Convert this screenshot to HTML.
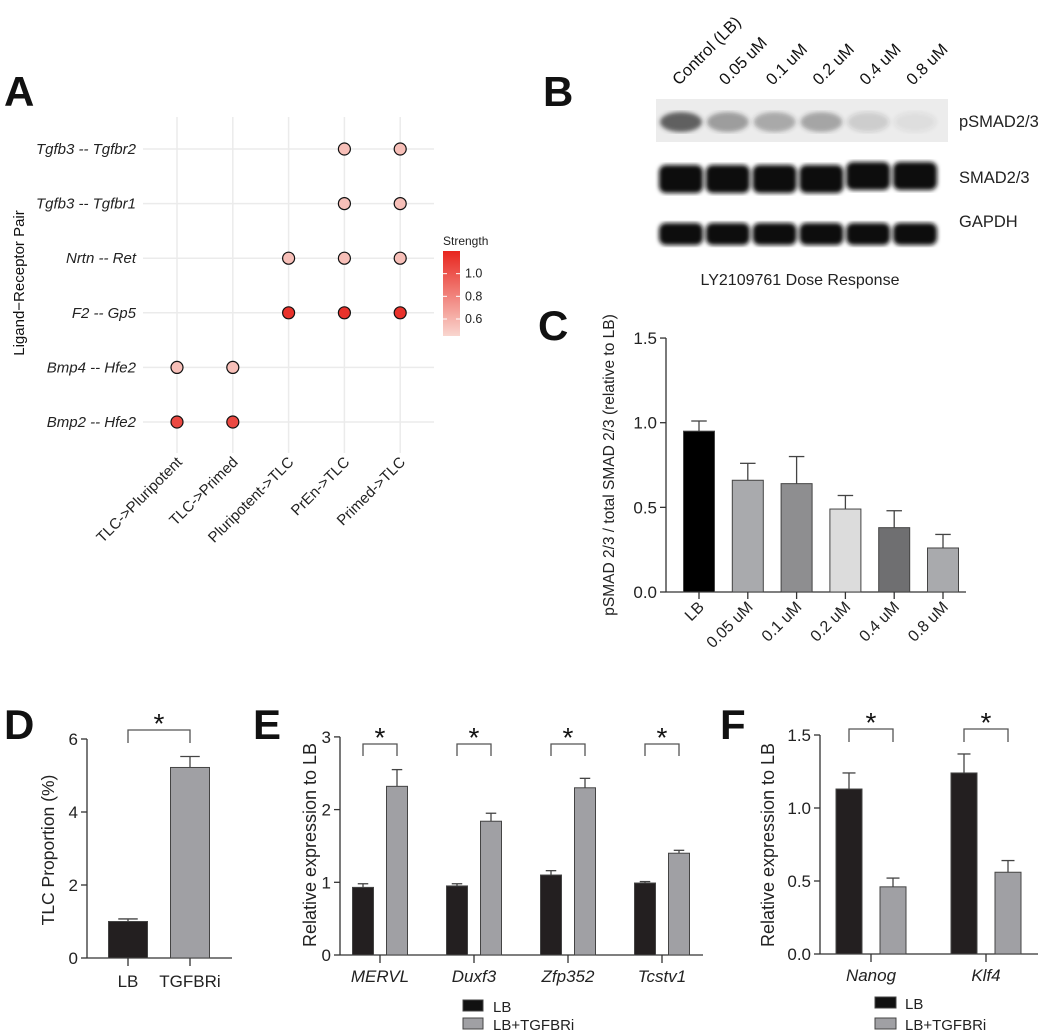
<!DOCTYPE html>
<html><head><meta charset="utf-8"><style>
html,body{margin:0;padding:0;background:#fff;}
svg{display:block;font-family:"Liberation Sans",Arial,sans-serif;}
</style></head><body>
<svg id="fig" width="1059" height="1032" viewBox="0 0 1059 1032" xmlns="http://www.w3.org/2000/svg">
<defs>
<linearGradient id="sg" x1="0" y1="1" x2="0" y2="0">
<stop offset="0" stop-color="#f9d6cf"/><stop offset="1" stop-color="#e8261f"/>
</linearGradient>
<filter id="blur"><feGaussianBlur stdDeviation="2"/></filter>
</defs>
<g id="pA"></g>
<g id="pB"></g>
<g id="pC"></g>
<g id="pD"></g>
<g id="pE"></g>
<g id="pF"></g>
</svg>
<script>
// ---- Panel A data ----
const aPairs = ["Tgfb3 -- Tgfbr2","Tgfb3 -- Tgfbr1","Nrtn -- Ret","F2 -- Gp5","Bmp4 -- Hfe2","Bmp2 -- Hfe2"];
const aGroups = ["TLC->Pluripotent","TLC->Primed","Pluripotent->TLC","PrEn->TLC","Primed->TLC"];
const aDotPair = [0,0,1,1,2,2,2,3,3,3,4,4,5,5];
const aDotGroup = [3,4,3,4,2,3,4,2,3,4,0,1,0,1];
const aDotStrength = [0.55,0.55,0.55,0.55,0.55,0.55,0.55,1.15,1.15,1.15,0.55,0.55,1.05,1.05];
const aLegendTicks = [1.0,0.8,0.6];
// ---- Panel B data ----
const bLanes = ["Control (LB)","0.05 uM","0.1 uM","0.2 uM","0.4 uM","0.8 uM"];
const bPInt = [0.75,0.42,0.36,0.38,0.16,0.08];
// ---- Panel C data ----
const cCats = ["LB","0.05 uM","0.1 uM","0.2 uM","0.4 uM","0.8 uM"];
const cVals = [0.95,0.66,0.64,0.49,0.38,0.26];
const cErr = [0.06,0.10,0.16,0.08,0.10,0.08];
const cTicks = ["0.0","0.5","1.0","1.5"];
// ---- Panel D data ----
const dCats = ["LB","TGFBRi"];
const dVals = [1.0,5.22];
const dErr = [0.07,0.30];
const dTicks = [0,2,4,6];
// ---- Panel E data ----
const eCats = ["MERVL","Duxf3","Zfp352","Tcstv1"];
const eLB = [0.93,0.95,1.10,0.99];
const eLBErr = [0.05,0.03,0.06,0.02];
const eT = [2.32,1.84,2.30,1.40];
const eTErr = [0.23,0.11,0.13,0.04];
const eTicks = [0,1,2,3];
// ---- Panel F data ----
const fCats = ["Nanog","Klf4"];
const fLB = [1.13,1.24];
const fLBErr = [0.11,0.13];
const fT = [0.46,0.56];
const fTErr = [0.06,0.08];
const fTicks = ["0.0","0.5","1.0","1.5"];

const NS="http://www.w3.org/2000/svg";
function mk(parent,tag,attrs,text){const e=document.createElementNS(NS,tag);for(const k in attrs)e.setAttribute(k,attrs[k]);if(text!==undefined)e.textContent=text;parent.appendChild(e);return e;}
function letter(g,ch,x,y){const t=mk(g,'text',{x:x,y:y,'font-size':42,'font-weight':'bold',fill:'#111'},ch);

}

// ===== Panel A =====
(function(){
const g=document.getElementById('pA');
letter(g,'A',4,106);
const colX=i=>177+i*55.8, rowY=i=>149+i*54.6;
aPairs.forEach((p,i)=>{
 const l=mk(g,'line',{x1:143,x2:434,y1:rowY(i),y2:rowY(i),stroke:'#ebebeb','stroke-width':1.5});
 
 
 const t=mk(g,'text',{x:136,y:rowY(i)+5,'text-anchor':'end','font-size':15,'font-style':'italic',fill:'#222'},p);
 
 
});
aGroups.forEach((p,i)=>{
 const l=mk(g,'line',{x1:colX(i),x2:colX(i),y1:117,y2:453,stroke:'#ebebeb','stroke-width':1.5});
 
 
 const t=mk(g,'text',{x:0,y:0,'text-anchor':'end','font-size':15,fill:'#222',transform:`translate(${colX(i)+6},${463}) rotate(-45)`},p);
 
 
});
function col(s){const f=Math.max(0,Math.min(1,(s-0.45)/(1.2-0.45)));
 const a=[249,214,207],b=[232,38,31];return `rgb(${a.map((v,k)=>Math.round(v+(b[k]-v)*f)).join(',')})`;}
aDotPair.forEach((p,i)=>{
 const c=mk(g,'circle',{cx:colX(aDotGroup[i]),cy:rowY(p),r:6,fill:col(aDotStrength[i]),stroke:'#111','stroke-width':1.2});
 
 
});
const yt=mk(g,'text',{x:0,y:0,'text-anchor':'middle','font-size':15,fill:'#111',transform:'translate(24,283) rotate(-90)'},'Ligand\u2212Receptor Pair');


const lt=mk(g,'text',{x:443,y:245,'font-size':12,fill:'#222'},'Strength');


const bar=mk(g,'rect',{x:443,y:251,width:17,height:85,fill:'url(#sg)'});


const ly=v=>336-(v-0.45)/(1.2-0.45)*85;
aLegendTicks.forEach(v=>{
 mk(g,'line',{x1:443,x2:447,y1:ly(v),y2:ly(v),stroke:'#fff'});
 mk(g,'line',{x1:456,x2:460,y1:ly(v),y2:ly(v),stroke:'#fff'});
 const t=mk(g,'text',{x:465,y:ly(v)+4,'font-size':12.5,fill:'#222'},v.toFixed(1));
 
 
});
})();

// ===== Panel B =====
(function(){
const g=document.getElementById('pB');
letter(g,'B',543,106);
const laneX=i=>681+i*46.8;
mk(g,'rect',{x:656,y:99,width:292,height:43,fill:'#ececec'});
bLanes.forEach((n,i)=>{
 const t=mk(g,'text',{x:0,y:0,'font-size':16.5,fill:'#111',transform:`translate(${laneX(i)-2},${86}) rotate(-45)`},n);
 
 
 const p=mk(g,'ellipse',{cx:laneX(i),cy:122,rx:21,ry:10,fill:'#333','fill-opacity':bPInt[i],filter:'url(#blur)'});
 
 
 const s=mk(g,'rect',{x:laneX(i)-22,y:i>=4?162:165,width:44,height:28,rx:7,fill:'#111',filter:'url(#blur)'});
 
 
 const gp=mk(g,'rect',{x:laneX(i)-22,y:223,width:44,height:22,rx:7,fill:'#111',filter:'url(#blur)'});
 
 
});
[['pSMAD2/3',127],['SMAD2/3',183],['GAPDH',227]].forEach(([s,y])=>{
 const t=mk(g,'text',{x:959,y:y,'font-size':16.5,fill:'#222'},s);
 
 
});
const c=mk(g,'text',{x:800,y:285,'text-anchor':'middle','font-size':16,fill:'#222'},'LY2109761 Dose Response');


})();

function yAxis(g,x,y0,ppu,ticks,fs){
 const vals=ticks.map(Number);
 mk(g,'line',{x1:x,x2:x,y1:y0,y2:y0-ppu*vals[vals.length-1],stroke:'#333','stroke-width':1.3});
 ticks.forEach(t=>{const y=y0-ppu*Number(t);
  mk(g,'line',{x1:x-6,x2:x,y1:y,y2:y,stroke:'#333','stroke-width':1.3});
  const tx=mk(g,'text',{x:x-9,y:y+6,'text-anchor':'end','font-size':fs,fill:'#222'},String(t));
  
  });
}
function bar(g,cx,w,y0,ppu,v,e,fill,name){
 const r=mk(g,'rect',{x:cx-w/2,y:y0-ppu*v,width:w,height:ppu*v,fill:fill,stroke:'#444','stroke-width':1});
 
 
 mk(g,'line',{x1:cx,x2:cx,y1:y0-ppu*v,y2:y0-ppu*(v+e),stroke:'#444','stroke-width':1.3});
 mk(g,'line',{x1:cx-w/4,x2:cx+w/4,y1:y0-ppu*(v+e),y2:y0-ppu*(v+e),stroke:'#444','stroke-width':1.3});
}
function bracket(g,x1,x2,y,h){
 mk(g,'path',{d:`M${x1},${y+h}V${y}H${x2}V${y+h}`,fill:'none',stroke:'#555','stroke-width':1.3});
 const s=mk(g,'text',{x:(x1+x2)/2,y:y+3,'text-anchor':'middle','font-size':28,fill:'#111'},'*');
 
 
}
function ytitle(g,x,y,s,fs){const t=mk(g,'text',{x:0,y:0,'text-anchor':'middle','font-size':fs,fill:'#222',transform:`translate(${x},${y}) rotate(-90)`},s);
 
 }

// ===== Panel C =====
(function(){
const g=document.getElementById('pC');
letter(g,'C',538,340);
const y0=592,ppu=169.3,x0=666;
yAxis(g,x0,y0,ppu,cTicks,17);
mk(g,'line',{x1:x0,x2:966,y1:y0,y2:y0,stroke:'#333','stroke-width':1.3});
const fills=['#000','#a9aaad','#8e8e90','#dcdcdc','#6f6f71','#a9aaad'];
cCats.forEach((c,i)=>{const cx=699+i*48.8;
 bar(g,cx,31,y0,ppu,cVals[i],cErr[i],fills[i],'bar-'+i);
 mk(g,'line',{x1:cx,x2:cx,y1:y0,y2:y0+7,stroke:'#333','stroke-width':1.3});
 const t=mk(g,'text',{x:0,y:0,'text-anchor':'end','font-size':16,fill:'#222',transform:`translate(${cx+6},${608}) rotate(-45)`},c);
 
 
});
ytitle(g,614,465,'pSMAD 2/3 / total SMAD 2/3 (relative to LB)',15.5);
})();

// ===== Panel D =====
(function(){
const g=document.getElementById('pD');
letter(g,'D',4,739);
const y0=958,ppu=36.5,x0=87;
yAxis(g,x0,y0,ppu,dTicks,17);
mk(g,'line',{x1:x0,x2:232,y1:y0,y2:y0,stroke:'#333','stroke-width':1.3});
const fills=['#231f20','#a0a0a4'];
const xs=[128,190];
dCats.forEach((c,i)=>{
 bar(g,xs[i],39,y0,ppu,dVals[i],dErr[i],fills[i],'bar-'+c.toLowerCase());
 mk(g,'line',{x1:xs[i],x2:xs[i],y1:y0,y2:y0+8,stroke:'#333','stroke-width':1.3});
 const t=mk(g,'text',{x:xs[i],y:987,'text-anchor':'middle','font-size':17,fill:'#222'},c);
 
 
});
bracket(g,128,190,730,13);
ytitle(g,54,850,'TLC Proportion (%)',17.5);
})();

function legend(g,x,y,w,h,gap,tx){
 [['LB','#111'],['LB+TGFBRi','#a0a0a4']].forEach(([s,f],i)=>{
  const r=mk(g,'rect',{x:x,y:y+i*gap,width:w,height:h,fill:f,stroke:'#444'});
  
  
  const t=mk(g,'text',{x:tx,y:y+i*gap+h+1,'font-size':15,fill:'#222'},s);
  
  
 });
}

// ===== Panel E =====
(function(){
const g=document.getElementById('pE');
letter(g,'E',253,739);
const y0=955,ppu=72.7,x0=340;
yAxis(g,x0,y0,ppu,eTicks,17);
mk(g,'line',{x1:x0,x2:703,y1:y0,y2:y0,stroke:'#333','stroke-width':1.3});
eCats.forEach((c,i)=>{const cx=380+i*94;
 bar(g,cx-17,21,y0,ppu,eLB[i],eLBErr[i],'#231f20','bar-lb-'+c.toLowerCase());
 bar(g,cx+17,21,y0,ppu,eT[i],eTErr[i],'#a0a0a4','bar-tgfbri-'+c.toLowerCase());
 mk(g,'line',{x1:cx,x2:cx,y1:y0,y2:y0+8,stroke:'#333','stroke-width':1.3});
 const t=mk(g,'text',{x:cx,y:982,'text-anchor':'middle','font-size':17,'font-style':'italic',fill:'#222'},c);
 
 
 bracket(g,cx-17,cx+17,744,12);
});
ytitle(g,316,845,'Relative expression to LB',18);
legend(g,463,1000,20,11,18,493);
})();

// ===== Panel F =====
(function(){
const g=document.getElementById('pF');
letter(g,'F',720,739);
const y0=954,ppu=146,x0=820;
yAxis(g,x0,y0,ppu,fTicks,17);
mk(g,'line',{x1:x0,x2:1038,y1:y0,y2:y0,stroke:'#333','stroke-width':1.3});
fCats.forEach((c,i)=>{const cx=871+i*115;
 bar(g,cx-22,26,y0,ppu,fLB[i],fLBErr[i],'#231f20','bar-lb-'+c.toLowerCase());
 bar(g,cx+22,26,y0,ppu,fT[i],fTErr[i],'#a0a0a4','bar-tgfbri-'+c.toLowerCase());
 mk(g,'line',{x1:cx,x2:cx,y1:y0,y2:y0+8,stroke:'#333','stroke-width':1.3});
 const t=mk(g,'text',{x:cx,y:981,'text-anchor':'middle','font-size':17,'font-style':'italic',fill:'#222'},c);
 
 
 bracket(g,cx-22,cx+22,729,13);
});
ytitle(g,774,845,'Relative expression to LB',18);
legend(g,875,997,21,11,21,905);
})();
</script>
</body></html>
